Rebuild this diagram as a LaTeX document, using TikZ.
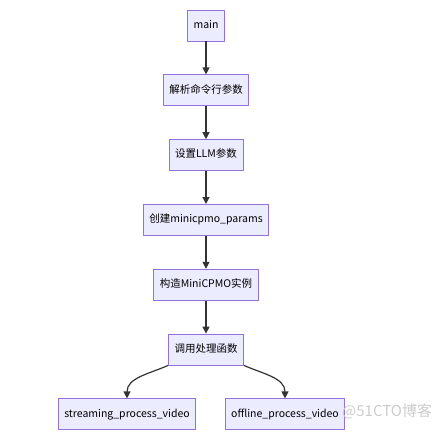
\documentclass[tikz,border=0pt]{standalone}
\usepackage{fontspec}
\setmainfont{Noto Sans CJK SC}
\usetikzlibrary{positioning,arrows.meta}
\definecolor{boxfill}{HTML}{ECECFF}
\definecolor{boxline}{HTML}{9370DB}
\definecolor{linkline}{HTML}{333333}
\begin{document}
\begin{tikzpicture}[
        line join=round,
        box/.style={draw=boxline, fill=boxfill, line width=0.8pt,
            minimum height=31pt, text height=8pt, text depth=2.5pt,
            inner xsep=6pt, inner ysep=2pt,
            font=\fontsize{10.5}{12}\selectfont},
        link/.style={draw=linkline, line width=1.2pt,
            -{Triangle[length=7pt,width=7pt]}}
    ]
        % 画布边界
        \useasboundingbox (0pt,0pt) rectangle (438pt,-431pt);

        % 主流程
        \node[box] (main) at (206pt,-25.5pt) {main};
        \node[box, below=33pt of main] (parse) {解析命令行参数};
        \node[box, below=33pt of parse] (llm) {设置LLM参数};
        \node[box, below=33pt of llm] (params) {创建minicpmo\_params};
        \node[box, below=33pt of params] (build) {构造MiniCPMO实例};
        \node[box, below=33pt of build] (call) {调用处理函数};

        % 两个分支
        \node[box, below=33pt of call, xshift=-79pt] (stream) {streaming\_process\_video};
        \node[box, below=33pt of call, xshift=79pt] (offline) {offline\_process\_video};

        % 连线
        \draw[link] (main) -- (parse);
        \draw[link] (parse) -- (llm);
        \draw[link] (llm) -- (params);
        \draw[link] (params) -- (build);
        \draw[link] (build) -- (call);
        \draw[link] (call.south west) to[out=204, in=90] (stream.north);
        \draw[link] (call.south east) to[out=-24, in=90] (offline.north);

        % 水印
        \node[text=black!20, font=\fontsize{15}{17}\selectfont, anchor=west,
            inner sep=0pt] (mark) at (342pt,-411pt) {@51CTO博客};
    \end{tikzpicture}
\end{document}
